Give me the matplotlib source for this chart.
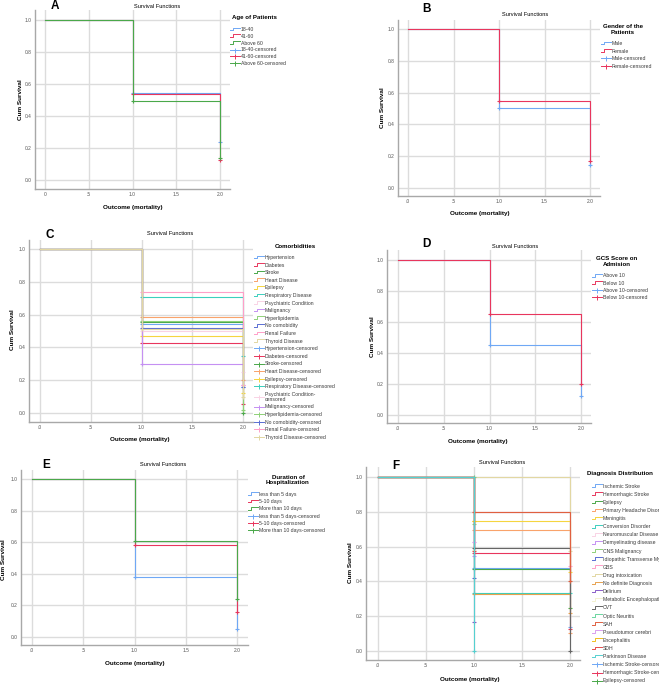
import math

import matplotlib
matplotlib.use("Agg")
import matplotlib.pyplot as plt
from matplotlib.lines import Line2D
from matplotlib.legend_handler import HandlerBase

plt.rcParams["font.family"] = ["Liberation Sans", "DejaVu Sans"]

W, H = 659, 685
NA = float("nan")  # group has no follow-up at time 2

# ---------------- data ----------------
times = [0, 1, 2]
x_ticks = [0, 0.5, 1.0, 1.5, 2.0]
y_ticks = [0.0, 0.2, 0.4, 0.6, 0.8, 1.0]
y_tick_labels = ["0.0", "0.2", "0.4", "0.6", "0.8", "1.0"]
x_tick_labels_a = ["0", ".5", "1.0", "1.5", "2.0"]
x_tick_labels = [".0", ".5", "1.0", "1.5", "2.0"]

age_groups = ["18-40", "41-60", "Above 60"]
age_s1 = [0.545, 0.54, 0.495]
age_s2 = [0.24, 0.125, 0.14]

gender_groups = ["Male", "Female"]
gender_s1 = [0.505, 0.55]
gender_s2 = [0.145, 0.17]

comorb_groups = ["Hypertension", "Diabetes", "Stroke", "Heart Disease", "Epilepsy",
                 "Respiratory Disease", "Psychiatric Condition", "Malignancy",
                 "Hyperlipidemia", "No comobidity", "Renal Failure", "Thyroid Disease"]
comorb_s1 = [0.54, 0.425, 0.553, 0.587, 0.47, 0.705, 0.50, 0.30, 0.56, 0.516, 0.736, 0.51]
comorb_s2 = [0.16, 0.055, 0.0, 0.20, 0.12, 0.35, 0.25, 0.17, 0.02, 0.16, 0.17, 0.10]

gcs_groups = ["Above 10", "Below 10"]
gcs_s1 = [0.45, 0.65]
gcs_s2 = [0.12, 0.20]

stay_groups = ["less than 5 days", "5-10 days", "More than 10 days"]
stay_s1 = [0.38, 0.58, 0.61]
stay_s2 = [0.05, 0.16, 0.24]

diag_groups = ["Ischemic Stroke", "Hemorrhagic Stroke", "Epilepsy", "Primary Headache Disorder",
               "Meningitis", "Conversion Disorder", "Neuromuscular Disease", "Demyelinating disease",
               "CNS Malignancy", "Idiopathic Transverse Myelitis", "GBS", "Drug intoxication",
               "No definite Diagnosis", "Delirium", "Metabolic Encephalopathy", "CVT",
               "Optic Neuritis", "SAH", "Pseudotumor cerebri", "Encephalitis", "SDH",
               "Parkinson Disease"]
diag_s1 = [0.475, 0.565, 0.47, 0.695, 0.75, 0.335, 0.625, 0.546, 0.73, 0.42, 0.80, 1.0,
           0.325, 0.169, 0.58, 0.594, 1.0, 0.80, 0.625, 0.75, 0.575, 0.0]
diag_s2 = [0.14, 0.128, 0.25, 0.105, 0.452, 0.335, NA, NA, NA, NA, 0.49, 0.575,
           0.216, NA, NA, 0.0, NA, 0.40, NA, NA, NA, NA]

# SPSS-like palette
palette = ["#6fa8f5", "#e8365d", "#4aa84a", "#f9a36b", "#f5d540", "#3ccfbd",
           "#f9d3e5", "#c590f2", "#8fd178", "#5a6ed3", "#ff9fc8", "#e2d7a3",
           "#e8a24e", "#8a5fc9", "#f3f1cf", "#666666", "#6ad6a0", "#e06040",
           "#d9a0f0", "#f0c020", "#e44d4d", "#55d0d0"]

LEG_FS = 3.7


class StepHandler(HandlerBase):
    def create_artists(self, legend, orig_handle, xdescent, ydescent,
                       width, height, fontsize, trans):
        x0 = -xdescent
        y0 = -ydescent
        xs = [x0, x0 + 0.3 * width, x0 + 0.3 * width, x0 + width]
        ys = [y0 + 0.2 * height, y0 + 0.2 * height, y0 + 0.95 * height, y0 + 0.95 * height]
        line = Line2D(xs, ys, color=orig_handle.get_color(), lw=0.7, transform=trans)
        return [line]


def fx(px):
    return px / W


def fy(py):
    return 1 - py / H


fig = plt.figure(figsize=(W / 100, H / 100), dpi=100)


def draw_panel(letter, groups, s1, s2, box, scale, xlabels, legend_title, leg_title_pos,
               leg_pos, pitch, text_pos):
    left, right, top, bottom = box
    x0p, x2p, y1p, y0p = scale
    ax = fig.add_axes([fx(left), fy(bottom), (right - left) / W, (bottom - top) / H])
    xu = (x2p - x0p) / 2.0
    yu = (y0p - y1p)
    ax.set_xlim((left - x0p) / xu, (right - x0p) / xu)
    ax.set_ylim((y0p - bottom) / yu, (y0p - top) / yu)

    ax.set_xticks(x_ticks)
    ax.set_xticklabels(xlabels)
    ax.set_yticks(y_ticks)
    ax.set_yticklabels(y_tick_labels)
    ax.tick_params(length=0, labelsize=3.5, colors="#555555", pad=2.5)
    ax.grid(True, color="#dcdcdc", lw=1.0)
    ax.set_axisbelow(True)
    for side in ["top", "right"]:
        ax.spines[side].set_visible(False)
    for side in ["left", "bottom"]:
        ax.spines[side].set_color("#a8a8a8")
        ax.spines[side].set_linewidth(1.0)

    colors = palette[:len(groups)]
    for a, b, c in zip(s1, s2, colors):
        if math.isnan(b):
            ax.step(times[:2], [1.0, a], where="post", color=c, lw=0.8)
            ax.plot([1], [a], ls="none", marker="+", ms=3.2, mew=0.8, color=c)
        else:
            ax.step(times, [1.0, a, b], where="post", color=c, lw=0.8)
            ax.plot([1, 2], [a, b], ls="none", marker="+", ms=3.2, mew=0.8, color=c)

    handles, labels, hmap = [], [], {}
    for g, c in zip(groups, colors):
        h = Line2D([], [], color=c, lw=0.7)
        hmap[h] = StepHandler()
        handles.append(h)
        labels.append(g)
    for g, c in zip(groups, colors):
        h = Line2D([], [], color=c, lw=0.7, marker="+", ms=3.6, mew=0.7)
        handles.append(h)
        lab = g + "-censored"
        if g == "Psychiatric Condition":
            lab = "Psychiatric Condition-\ncensored"
        labels.append(lab)

    fs_px = LEG_FS * 100 / 72
    spacing = (pitch - 0.97 * fs_px) / fs_px
    top_y = leg_pos[1] - 0.45 * fs_px
    leg = ax.legend(handles, labels, loc="upper left",
                    bbox_to_anchor=(fx(leg_pos[0]), fy(top_y)),
                    bbox_transform=fig.transFigure, frameon=False,
                    fontsize=LEG_FS, handler_map=hmap, handlelength=1.85,
                    handletextpad=0.2, labelspacing=spacing, borderpad=0,
                    borderaxespad=0)
    for t in leg.get_texts():
        t.set_color("#3a3a3a")
        t.set_linespacing(1.05)

    fig.text(fx(leg_title_pos[0]), fy(leg_title_pos[1]), legend_title, fontsize=4.4,
             fontweight="bold", ha="center", va="center", linespacing=1.1)
    tx, ty = text_pos["title"]
    fig.text(fx(tx), fy(ty), "Survival Functions", fontsize=4.1, ha="center", va="center")
    lx, ly = text_pos["letter"]
    fig.text(fx(lx), fy(ly), letter, fontsize=8.5, fontweight="bold", ha="center", va="center")
    xx, xy = text_pos["xlabel"]
    fig.text(fx(xx), fy(xy), "Outcome (mortality)", fontsize=4.5, fontweight="bold",
             ha="center", va="center")
    yx, yy = text_pos["ylabel"]
    fig.text(fx(yx), fy(yy), "Cum Survival", fontsize=4.6, fontweight="bold",
             ha="center", va="center", rotation=90)
    return ax


draw_panel("A", age_groups, age_s1, age_s2,
           (35, 230, 10, 189), (45, 220, 20, 180), x_tick_labels_a,
           "Age of Patients", (255, 18), (230, 29.3), 6.8,
           {"title": (157, 6), "letter": (55, 6), "xlabel": (133, 208), "ylabel": (20, 100)})

draw_panel("B", gender_groups, gender_s1, gender_s2,
           (398, 600, 20, 196), (408, 590, 29, 188), x_tick_labels,
           "Gender of the\nPatients", (623, 29.5), (601, 43.3), 7.6,
           {"title": (525, 14), "letter": (427, 9), "xlabel": (480, 213), "ylabel": (383, 108)})

draw_panel("C", comorb_groups, comorb_s1, comorb_s2,
           (29, 253, 240, 422), (40, 243, 249, 413), x_tick_labels,
           "Comorbidities", (295, 246), (254, 257.3), 7.58,
           {"title": (170, 233), "letter": (50, 235), "xlabel": (140, 440), "ylabel": (13, 330)})

draw_panel("D", gcs_groups, gcs_s1, gcs_s2,
           (387, 591, 250, 423), (398, 581, 260, 415), x_tick_labels,
           "GCS Score on\nAdmision", (617, 261.5), (592, 275.7), 7.1,
           {"title": (515, 246), "letter": (426, 244), "xlabel": (478, 442), "ylabel": (372, 337)})

draw_panel("E", stay_groups, stay_s1, stay_s2,
           (21, 248, 470, 645), (32, 237, 479, 637), x_tick_labels,
           "Duration of\nHospitalization", (288, 480), (248, 494), 7.3,
           {"title": (163, 464), "letter": (46, 465), "xlabel": (135, 663), "ylabel": (4, 560)})

draw_panel("F", diag_groups, diag_s1, diag_s2,
           (366, 580, 467, 660), (378, 570, 477, 651), x_tick_labels,
           "Diagnosis Distribution", (620, 474), (592, 486), 8.1,
           {"title": (502, 462), "letter": (396, 466), "xlabel": (470, 679), "ylabel": (351, 563)})

fig.savefig("out.png", dpi=100, facecolor="white")
